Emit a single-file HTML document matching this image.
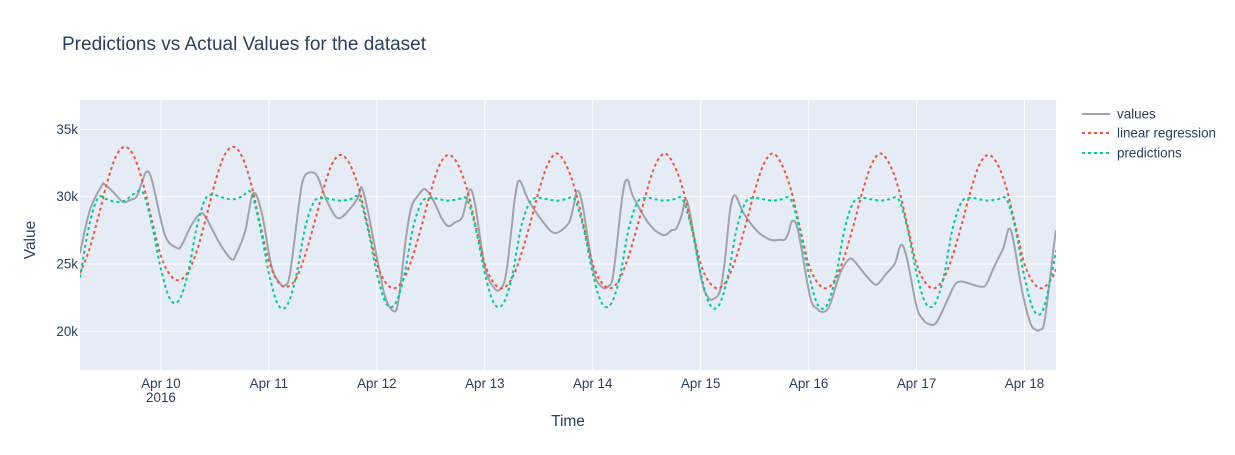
<!DOCTYPE html>
<html><head><meta charset="utf-8"><style>
body{margin:0;background:#fff;font-family:"Liberation Sans",Arial,sans-serif;}
svg text{font-family:"Liberation Sans",Arial,sans-serif;fill:#2a3f5f;}
</style></head><body>
<svg id="chart" width="1235" height="450" xmlns="http://www.w3.org/2000/svg">
<rect width="1235" height="450" fill="#fff"/>
<text x="62" y="50" font-size="19">Predictions vs Actual Values for the dataset</text>
<rect x="80" y="100" width="976" height="270" fill="#E5ECF6"/>
<g id="grid"></g>
<g id="xticks"></g>
<g id="yticks"></g>
<g id="series"></g>
<text x="568" y="426" font-size="15.5" text-anchor="middle">Time</text>
<text x="35" y="240" font-size="15.5" text-anchor="middle" transform="rotate(-90 35 240)">Value</text>
<g>
<g><line x1="1082" y1="114" x2="1110" y2="114" stroke="#a2a2aa" stroke-width="2"/><text x="1117" y="118.5" font-size="13.4">values</text></g>
<g><line x1="1082" y1="133" x2="1110" y2="133" stroke="#EF553B" stroke-width="2" stroke-dasharray="3,3"/><text x="1117" y="137.5" font-size="13.4">linear regression</text></g>
<g><line x1="1082" y1="153" x2="1110" y2="153" stroke="#00CC96" stroke-width="2" stroke-dasharray="3,3"/><text x="1117" y="157.5" font-size="13.4">predictions</text></g>
</g>
</svg>
<script>
// hours since 2016-04-09 00:00
const xTickLabels=["Apr 10","Apr 11","Apr 12","Apr 13","Apr 14","Apr 15","Apr 16","Apr 17","Apr 18"];
const xTickHours=[24,48,72,96,120,144,168,192,216];
const yTickValues=[20000,25000,30000,35000];
const yTickLabels=["20k","25k","30k","35k"];
const actualHours=[6,8.2,10.8,11.5,13.5,15.6,17.5,18.6,19.7,20.8,22,24.9,27.5,28.6,30.8,32.7,33.9,37.1,39.7,40.8,42.7,44.5,46.4,48.6,50.5,51.6,52.7,54.8,55.7,57.1,58.8,60.8,63.4,66.4,67.9,68.6,69.8,72,73.8,75.7,76.8,78.5,79.7,81.2,82.7,84.5,86.4,87.9,89.4,90.9,91.8,92.7,93.8,96,97.9,99.4,100.7,102,102.7,103.7,105.7,109,111.6,114.6,115.7,116.6,117.8,120.1,122,123.5,124.6,126.6,127.7,129,132.7,135.7,137.5,138.6,139.8,140.6,141.6,144.2,145.7,146.8,148.3,149.4,150.5,151.6,153.5,156.4,159.4,161.6,162.7,163.5,164.4,165.7,168.3,169.8,171.3,172.7,175,176.8,177.9,180.1,182.4,183.5,185.3,187.2,188.5,189.8,192,193.5,195,196.5,198.7,200.5,202,204.6,206.5,207.6,209.4,211.3,212.5,213.5,215.4,217.2,218.3,219.4,220.5,222.4,223];
const actualValues=[25800,29000,30800,30900,30300,29600,29800,30000,31000,31850,31200,27150,26200,26400,27900,28700,28500,26500,25350,25800,27400,30250,28800,24800,23550,23400,24300,29750,31350,31800,31500,29750,28400,29250,30000,30700,29250,25500,22600,21500,22300,27000,29250,30100,30550,29750,28400,27800,28100,28400,29500,30550,29500,24800,23300,23100,24200,27800,29900,31200,29750,28100,27300,28000,29250,30450,29250,24550,23300,23350,24300,30050,31250,30000,27900,27150,27500,27650,28650,29750,28800,23800,22500,22400,23000,25300,28900,30100,28800,27500,26800,26800,26800,27300,28200,27400,22600,21700,21450,21950,24300,25300,25300,24400,23550,23550,24300,25050,26400,25500,21850,20850,20500,20700,22200,23450,23700,23450,23300,23550,24900,26200,27600,26800,23100,20700,20150,20100,20850,26000,27500];
const modelHours=[6,8,10,12,14,16,18,20,22,24,26,28,30,32,34,36,38,40,42,44,46,48,50,52,54,56,58,60,62,64,66,68,70,72,74,76,78,80,82,84,86,88,90,92,94,96,98,100,102,104,106,108,110,112,114,116,118,120,122,124,126,128,130,132,134,136,138,140,142,144,146,148,150,152,154,156,158,160,162,164,166,168,170,172,174,176,178,180,182,184,186,188,190,192,194,196,198,200,202,204,206,208,210,212,214,216,218,220,222,223];
const regressionValues=[24300,26000,28400,31000,33000,33700,33000,31000,28200,
25600,24200,23800,24400,26000,28400,31000,33000,33700,33000,31000,28000,
25200,23700,23300,23900,25600,27900,30400,32400,33100,32400,30600,27800,
25000,23600,23200,23900,25600,27900,30400,32400,33100,32400,30600,27800,
25000,23600,23200,23900,25600,27900,30400,32400,33200,32400,30600,27800,
25000,23600,23200,23900,25600,27900,30400,32400,33200,32400,30600,27800,
25000,23600,23200,23900,25600,27900,30400,32400,33200,32400,30600,27800,
25000,23600,23200,23900,25600,27900,30400,32400,33200,32400,30600,27800,
25000,23600,23200,23900,25600,27900,30400,32400,33100,32400,30600,27800,
25000,23600,23200,23900,24600];
const predictionValues=[24000,27800,29900,29800,29600,29700,30200,30300,27900,
24600,22400,22300,24300,27800,29900,30100,29900,29800,30000,30300,27800,
24300,22000,21900,24000,27600,29600,29900,29800,29700,29800,29900,27600,
24300,22100,22000,24000,27600,29600,29900,29800,29700,29800,29800,27600,
24300,22100,22000,24000,27600,29600,29900,29800,29700,29800,29800,27600,
24300,22100,22000,24000,27600,29600,29900,29800,29700,29800,29800,27600,
24300,22000,21900,24000,27600,29600,29900,29800,29700,29800,29800,27600,
24300,22000,21900,24000,27600,29600,29900,29800,29700,29800,29800,27600,
24300,22100,22000,24000,27600,29600,29900,29800,29700,29800,29800,27600,
24000,21600,21500,24200,26000];

const X0=80,X1=1056,Y0=100,Y1=370,H0=6,H1=223,V0=17125,V1=37177;
const xs=h=>X0+(h-H0)/(H1-H0)*(X1-X0);
const ys=v=>Y1-(v-V0)/(V1-V0)*(Y1-Y0);
const NS="http://www.w3.org/2000/svg";
function mk(tag,attrs,parent){const e=document.createElementNS(NS,tag);for(const k in attrs)e.setAttribute(k,attrs[k]);parent.appendChild(e);return e;}
const grid=document.getElementById('grid'),xt=document.getElementById('xticks'),yt=document.getElementById('yticks'),ser=document.getElementById('series');
xTickHours.forEach((h,i)=>{
  const l=mk('line',{x1:xs(h),x2:xs(h),y1:Y0,y2:Y1,stroke:'#fff','stroke-width':1},grid);
  
  
  const t=mk('text',{x:xs(h),y:388,'font-size':13.4,'text-anchor':'middle'},xt);
  t.textContent=xTickLabels[i];
  
  
});
const yr=mk('text',{x:xs(24),y:402,'font-size':13.4,'text-anchor':'middle'},xt);
yr.textContent='2016';


yTickValues.forEach((v,i)=>{
  const l=mk('line',{x1:X0,x2:X1,y1:ys(v),y2:ys(v),stroke:'#fff','stroke-width':1},grid);
  
  
  const t=mk('text',{x:78,y:ys(v)+4.5,'font-size':13.4,'text-anchor':'end'},yt);
  t.textContent=yTickLabels[i];
  
  
});
function pathD(hs,vs){
  const p=hs.map((h,i)=>[xs(h),ys(vs[i])]);
  let d='M'+p[0][0].toFixed(2)+','+p[0][1].toFixed(2);
  for(let i=0;i<p.length-1;i++){
    const a=p[Math.max(0,i-1)],b=p[i],c=p[i+1],e=p[Math.min(p.length-1,i+2)];
    const c1=[b[0]+(c[0]-a[0])/6,b[1]+(c[1]-a[1])/6],c2=[c[0]-(e[0]-b[0])/6,c[1]-(e[1]-b[1])/6];
    d+='C'+c1[0].toFixed(2)+','+c1[1].toFixed(2)+' '+c2[0].toFixed(2)+','+c2[1].toFixed(2)+' '+c[0].toFixed(2)+','+c[1].toFixed(2);
  }
  return d;
}
const clip=mk('clipPath',{id:'pc'},mk('defs',{},document.getElementById('chart')));
mk('rect',{x:X0,y:Y0,width:X1-X0,height:Y1-Y0},clip);
ser.setAttribute('clip-path','url(#pc)');
const s1=mk('path',{d:pathD(actualHours,actualValues),fill:'none',stroke:'#a2a2aa','stroke-width':2},ser);


const s2=mk('path',{d:pathD(modelHours,regressionValues),fill:'none',stroke:'#EF553B','stroke-width':2,'stroke-dasharray':'3,3'},ser);


const s3=mk('path',{d:pathD(modelHours,predictionValues),fill:'none',stroke:'#00CC96','stroke-width':2,'stroke-dasharray':'3,3'},ser);


</script>
</body></html>
